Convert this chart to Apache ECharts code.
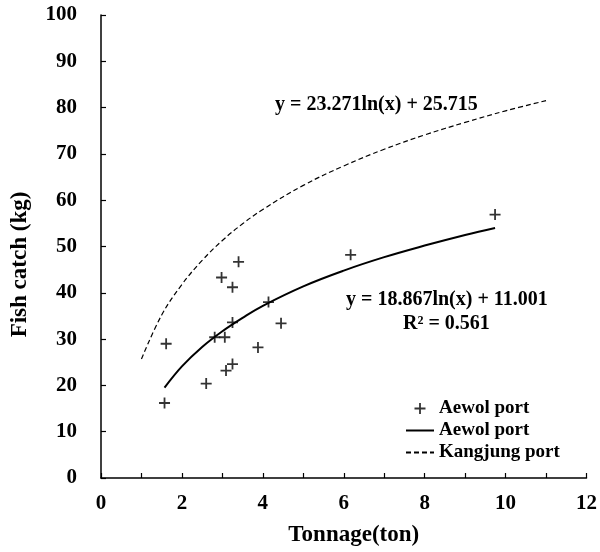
<!DOCTYPE html>
<html>
<head>
<meta charset="utf-8">
<script src="https://cdn.jsdelivr.net/npm/echarts@6/dist/echarts.min.js"></script>
<style>
  html, body { margin: 0; padding: 0; background: #fff; }
  #chart { width: 600px; height: 552px; }
</style>
</head>
<body>
<div id="chart"></div>
<script>
// Observed data: Aewol port (tonnage, fish catch)
const aewolTonnage = [1.57, 1.61, 2.60, 2.81, 3.06, 3.09, 3.25, 3.25, 2.98, 3.25, 3.40, 3.88, 4.14, 4.45, 6.17, 9.74];
const aewolCatch   = [16.2, 29.0, 20.4, 30.4, 30.4, 23.2, 24.6, 33.6, 43.3, 41.2, 46.7, 28.2, 38.0, 33.4, 48.2, 56.9];

// Trend curve for Aewol port
const aewolFitX = [1.57, 2, 2.5, 3, 3.5, 4, 5, 6, 7, 8, 9, 9.74];
const aewolFitY = [19.5, 24.1, 28.3, 31.7, 34.6, 37.2, 41.4, 44.8, 47.7, 50.2, 52.5, 54.0];

// Trend curve for Kangjung port
const kangFitX = [1, 1.5, 2, 2.5, 3, 3.5, 4, 5, 6, 7, 8, 9, 10, 11];
const kangFitY = [25.7, 35.2, 41.8, 47.0, 51.3, 54.9, 58.0, 63.2, 67.4, 71.0, 74.1, 76.8, 79.3, 81.5];

const xTicks = [0, 2, 4, 6, 8, 10, 12];
const yTicks = [0, 10, 20, 30, 40, 50, 60, 70, 80, 90, 100];

const eqKang = 'y = 23.271ln(x) + 25.715';
const eqAewol = 'y = 18.867ln(x) + 11.001';
const r2Aewol = 'R² = 0.561';

const FONT = '"Liberation Serif", "Times New Roman", serif';
const crossPath = 'path://M0,4.6h11v1.8h-11z M4.6,0h1.8v11h-1.8z';

const zip = (a, b) => a.map((v, i) => [v, b[i]]);

const chart = echarts.init(document.getElementById('chart'), null, { renderer: 'canvas' });
chart.setOption({
  animation: false,
  backgroundColor: '#fff',
  textStyle: { fontFamily: FONT, color: '#000' },
  grid: { left: 101, right: 11, top: 15, bottom: 72, containLabel: false },
  xAxis: {
    type: 'value', min: xTicks[0], max: xTicks[xTicks.length - 1], interval: 2,
    name: 'Tonnage(ton)', nameLocation: 'middle', nameGap: 46,
    nameTextStyle: { fontFamily: FONT, fontWeight: 'bold', fontSize: 23, color: '#000', padding: [0, 0, 0, 20] },
    axisLine: { lineStyle: { color: '#000', width: 1.5 } },
    axisTick: { inside: true, length: 5, lineStyle: { color: '#000', width: 1.2 } },
    minorTick: { show: true, splitNumber: 2, length: 5, lineStyle: { color: '#000', width: 1.2 } },
    axisLabel: { fontFamily: FONT, fontWeight: 'bold', fontSize: 21, color: '#000', margin: 15 },
    splitLine: { show: false }
  },
  yAxis: {
    type: 'value', min: yTicks[0], max: yTicks[yTicks.length - 1], interval: 10,
    name: 'Fish catch (kg)', nameLocation: 'middle', nameGap: 69,
    nameTextStyle: { fontFamily: FONT, fontWeight: 'bold', fontSize: 23, color: '#000', padding: [0, 36, 0, 0] },
    axisLine: { show: true, lineStyle: { color: '#000', width: 1.5 } },
    axisTick: { inside: true, length: 5, lineStyle: { color: '#000', width: 1.2 } },
    axisLabel: { fontFamily: FONT, fontWeight: 'bold', fontSize: 21, color: '#000', margin: 24 },
    splitLine: { show: false }
  },
  legend: {
    orient: 'vertical', left: 400, top: 394, itemGap: 3, itemWidth: 28, itemHeight: 11,
    textStyle: { fontFamily: FONT, fontWeight: 'bold', fontSize: 19, color: '#000' },
    data: [
      { name: 'Aewol port', icon: crossPath, itemStyle: { color: '#000' } },
      { name: 'Aewol port ', itemStyle: { opacity: 0 } },
      { name: 'Kangjung port', itemStyle: { opacity: 0 } }
    ]
  },
  series: [
    {
      name: 'Aewol port', type: 'scatter', data: zip(aewolTonnage, aewolCatch),
      symbol: crossPath, symbolSize: 11, itemStyle: { color: '#000' }, z: 5
    },
    {
      name: 'Aewol port ', type: 'line', data: zip(aewolFitX, aewolFitY),
      smooth: 0.4, symbol: 'none', showSymbol: false,
      lineStyle: { color: '#000', width: 2 }, itemStyle: { color: '#000' }
    },
    {
      name: 'Kangjung port', type: 'line', data: zip(kangFitX, kangFitY),
      smooth: 0.4, symbol: 'none', showSymbol: false,
      lineStyle: { color: '#000', width: 1.2, type: [5, 3] }, itemStyle: { color: '#000' }
    }
  ],
  graphic: [
    { type: 'text', left: 275, top: 95, style: { text: eqKang, font: 'bold 20px ' + FONT, fill: '#000' } },
    { type: 'text', left: 346, top: 290, style: { text: eqAewol, font: 'bold 20px ' + FONT, fill: '#000' } },
    { type: 'text', left: 403, top: 314, style: { text: r2Aewol, font: 'bold 20px ' + FONT, fill: '#000' } }
  ]
});
</script>
</body>
</html>
